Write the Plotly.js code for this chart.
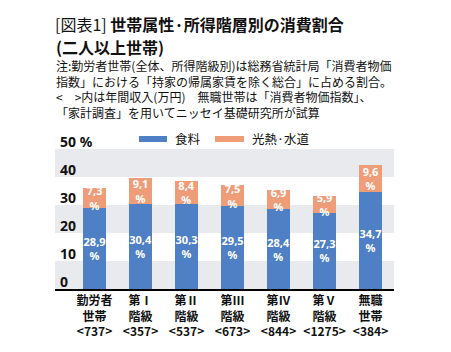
<!DOCTYPE html>
<html><head><meta charset="utf-8">
<script src="https://cdn.plot.ly/plotly-3.0.1.min.js"></script>
<style>html,body{margin:0;padding:0;background:#fff;}#c{width:451px;height:352px;}</style>
</head><body><div id="c"></div>
<script>
const groups = ['勤労者<br>世帯', '第Ⅰ<br>階級', '第Ⅱ<br>階級', '第Ⅲ<br>階級', '第Ⅳ<br>階級', '第Ⅴ<br>階級', '無職<br>世帯'];
const incomes = [737, 357, 537, 673, 844, 1275, 384];
const food = [28.9, 30.4, 30.3, 29.5, 28.4, 27.3, 34.7];
const utilities = [7.3, 9.1, 8.4, 7.5, 6.9, 5.9, 9.6];
const seriesNames = ['食料', '光熱·水道'];
const yTickVals = [0, 10, 20, 30, 40, 50];
const yTickText = ['0', '10', '20', '30', '40', '50 %'];
const bands = [[0, 10], [20, 30], [40, 50]];

const cats = groups.map((g, i) => g + '<br>&lt;' + incomes[i] + '&gt;');
const fmt = v => v.toFixed(1).replace('.', ',') + '<br>%';
const colors = ['#4f7fc4', '#ef9c78'];
const JP = '"Noto Sans CJK JP", "Noto Sans", sans-serif';

const mk = (vals, i) => ({
  type: 'bar', x: cats, y: vals, name: seriesNames[i],
  marker: {color: colors[i], line: {width: 0}},
  text: vals.map(fmt), textposition: 'inside', insidetextanchor: 'middle',
  textangle: 0, constraintext: 'none',
  textfont: {family: '"Noto Sans", sans-serif', size: 11, color: '#ffffff', weight: 'bold'},
  showlegend: false, hoverinfo: 'skip'
});

const shapes = bands.map(b => ({type: 'rect', xref: 'paper', yref: 'y', x0: 0, x1: 1, y0: b[0], y1: b[1],
  fillcolor: '#e8eaee', line: {width: 0}, layer: 'below'}));
// legend swatches
const legX = [[0.2478, 0.3304], [0.4720, 0.5575]];
legX.forEach((lx, i) => shapes.push({type: 'rect', xref: 'paper', yref: 'paper', x0: lx[0], x1: lx[1],
  y0: 1.05, y1: 1.093, fillcolor: colors[i], line: {width: 0}}));

const annotations = [
  {xref: 'paper', yref: 'paper', x: 0.3481, y: 1.072, xanchor: 'left', yanchor: 'middle', showarrow: false,
   text: seriesNames[0], font: {family: JP, size: 12.5, color: '#111'}},
  {xref: 'paper', yref: 'paper', x: 0.5752, y: 1.072, xanchor: 'left', yanchor: 'middle', showarrow: false,
   text: seriesNames[1], font: {family: JP, size: 12.5, color: '#111'}},
  {xref: 'paper', yref: 'paper', x: 0, y: (289 - 47) / 140, xanchor: 'left', yanchor: 'middle', align: 'left',
   showarrow: false, borderpad: 0,
   text: '<b>(二人以上世帯)</b>', font: {family: JP, size: 16, color: '#111'}},
  {xref: 'paper', yref: 'paper', x: 0, y: (289 - 56) / 140, xanchor: 'left', yanchor: 'top', align: 'left',
   showarrow: false, borderpad: 0,
   text: '注:勤労者世帯(全体、所得階級別)は総務省統計局「消費者物価<br>指数」における「持家の帰属家賃を除く総合」に占める割合。<br>&lt;　&gt;内は年間収入(万円)　無職世帯は「消費者物価指数」、<br>「家計調査」を用いてニッセイ基礎研究所が試算',
   font: {family: JP, size: 12, color: '#111'}}
];

const layout = {
  width: 451, height: 352,
  margin: {l: 55, r: 57, t: 149, b: 63, pad: 0, autoexpand: false},
  paper_bgcolor: '#ffffff', plot_bgcolor: '#ffffff',
  barmode: 'stack', bargap: 0.5,
  title: {text: '[図表1] <b>世帯属性·所得階層別の消費割合</b>',
    x: 55/451, xanchor: 'left', xref: 'container', y: 1 - 25/352, yanchor: 'middle', yref: 'container',
    font: {family: JP, size: 16, color: '#111'}},
  xaxis: {type: 'category', range: [-0.86, 6.51], showline: true, linecolor: '#000', linewidth: 1.5,
    ticks: '', showgrid: false, zeroline: false, fixedrange: true, automargin: false,
    tickfont: {family: JP, size: 12, color: '#111', weight: 'bold'}},
  yaxis: {range: [0, 50], tickvals: yTickVals, ticktext: yTickText, showgrid: false, zeroline: false,
    showline: false, ticks: '', ticklabelposition: 'inside', ticklabelstandoff: 2, ticklabelshift: -7,
    ticklabeloverflow: 'allow', automargin: false,
    tickfont: {family: '"Noto Sans", sans-serif', size: 14, color: '#111', weight: 'bold'}, fixedrange: true},
  shapes: shapes, annotations: annotations
};

Plotly.newPlot('c', [mk(food, 0), mk(utilities, 1)], layout, {staticPlot: true, displayModeBar: false});
</script></body></html>
